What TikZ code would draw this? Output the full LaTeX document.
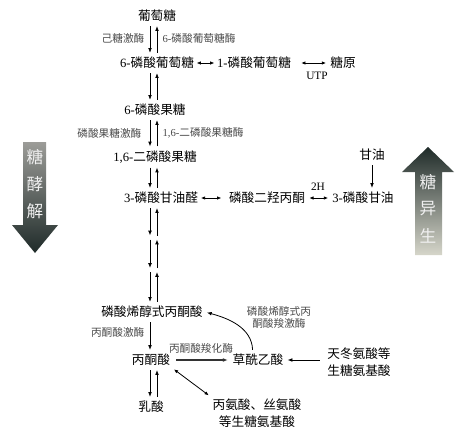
\documentclass[tikz,border=0pt]{standalone}
\usepackage{fontspec}
\setmainfont{Liberation Serif}
\newfontfamily\cjk{Noto Sans CJK SC}
\usetikzlibrary{arrows.meta,calc}
\definecolor{gldark}{HTML}{1F2B29}
\definecolor{glmid}{HTML}{3E4846}
\definecolor{gllight}{HTML}{9C9C98}
\definecolor{gnlight}{HTML}{D6D6CA}
\definecolor{enzgray}{HTML}{4A4A4A}
\tikzset{
  chem/.style={font=\cjk\fontsize{9.5}{12.5}\selectfont, inner sep=1.5pt, align=center},
  enz/.style={font=\cjk\fontsize{8}{9}\selectfont, text=enzgray, inner sep=1pt, align=center},
  latin/.style={font=\fontsize{8.5}{10}\selectfont, inner sep=1pt},
  bigtxt/.style={font=\cjk\fontsize{12.5}{14}\selectfont, text=white!94!black},
  arr/.style={-{Latex[length=3.6pt,width=2.8pt]}, line width=0.6pt, shorten <=1.5pt, shorten >=1.5pt},
  dbl/.style={{Latex[length=3.2pt,width=2.6pt]}-{Latex[length=3.2pt,width=2.6pt]}, line width=0.6pt, shorten <=1.5pt, shorten >=1.5pt},
}

\begin{document}
\begin{tikzpicture}[x=0.75pt, y=-0.75pt]
  \useasboundingbox (0,0) rectangle (469,439);

  % big arrows at the sides
  \shade[top color=gllight, middle color=glmid, bottom color=gldark]
    (23,142) -- (46,142) -- (46,225) -- (58,225) -- (35,253) -- (12,225) -- (23,225) -- cycle;
  \shade[top color=gldark, middle color=glmid!70!gnlight, bottom color=gnlight]
    (428,147) -- (454,172) -- (442,172) -- (442,255) -- (415,255) -- (415,172) -- (402,172) -- cycle;
  \node[bigtxt] (gly1) at (35,157) {糖};
  \node[bigtxt] (gly2) at (35,184) {酵};
  \node[bigtxt] (gly3) at (35,211) {解};
  \node[bigtxt] (gng1) at (428,182) {糖};
  \node[bigtxt] (gng2) at (428,209) {异};
  \node[bigtxt] (gng3) at (428,236) {生};

  % metabolites
  \node[chem] (glc)  at (157,16)  {葡萄糖};
  \node[chem] (g6p)  at (157,63)  {\textrm{6-}磷酸葡萄糖};
  \node[chem] (g1p)  at (254,63)  {\textrm{1-}磷酸葡萄糖};
  \node[chem] (glyg) at (343,63)  {糖原};
  \node[chem] (f6p)  at (155,110) {\textrm{6-}磷酸果糖};
  \node[chem] (fbp)  at (155,157) {\textrm{1,6-}二磷酸果糖};
  \node[chem] (gap)  at (161,198) {\textrm{3-}磷酸甘油醛};
  \node[chem] (dhap) at (267,198) {磷酸二羟丙酮};
  \node[chem] (g3p)  at (363,198) {\textrm{3-}磷酸甘油};
  \node[chem] (glyc) at (372,155) {甘油};
  \node[chem] (pep)  at (152,312) {磷酸烯醇式丙酮酸};
  \node[chem] (pyr)  at (151,360) {丙酮酸};
  \node[chem] (oaa)  at (258,360) {草酰乙酸};
  \node[chem] (asp)  at (359,362) {天冬氨酸等\\生糖氨基酸};
  \node[chem] (lac)  at (151,407) {乳酸};
  \node[chem] (ala)  at (257,413) {丙氨酸、丝氨酸\\等生糖氨基酸};

  % enzymes and cofactors
  \node[enz, anchor=east] (hk)     at (146,38)  {己糖激酶};
  \node[enz, anchor=west] (g6pase) at (161,38)  {\textrm{6-}磷酸葡萄糖酶};
  \node[enz, anchor=east] (pfk)    at (143,133) {磷酸果糖激酶};
  \node[enz, anchor=west] (fbpase) at (161,133) {\textrm{1,6-}二磷酸果糖酶};
  \node[enz, anchor=east] (pk)     at (146,332) {丙酮酸激酶};
  \node[enz] (pc)    at (201,348) {丙酮酸羧化酶};
  \node[enz] (pepck) at (279,317) {磷酸烯醇式丙\\酮酸羧激酶};
  \node[latin] (utp) at (317,76)  {UTP};
  \node[latin] (hh)  at (318,187) {2H};

  % main column
  \coordinate (cl) at (150,0);
  \coordinate (cr) at (157,0);
  \coordinate (k1) at (153,237.5);
  \coordinate (k2) at (153,270);
  \foreach \a/\b in {glc.south/g6p.north, g6p.south/f6p.north, f6p.south/fbp.north,
      fbp.south/gap.north, gap.south/k1, k1/k2, k2/pep.north, pyr.south/lac.north} {
    \draw[arr] (\a -| cl) -- (\b -| cl);
    \draw[arr] (\b -| cr) -- (\a -| cr);
  }
  \draw[arr] (pep.south -| cl) -- (pyr.north -| cl);

  % side reactions
  \draw[dbl, shorten <=0.3pt, shorten >=0.3pt] (g6p) -- (g1p);
  \draw[dbl, shorten <=6pt] (g1p) -- (glyg);
  \draw[dbl, shorten <=0.5pt, shorten >=4pt] (gap) -- (dhap);
  \draw[dbl] (dhap) -- (g3p);
  \draw[arr] (glyc) -- (glyc |- g3p.north);
  \draw[arr, line width=1.1pt, black!80, shorten <=3pt, shorten >=2pt] (pyr) -- (oaa);
  \draw[arr, shorten <=4pt] (asp.west |- oaa.center) -- (oaa.east);
  \draw[arr] ([xshift=-4pt]oaa.north) to[out=92, in=-15] (pep.east);
  \draw[dbl] (pyr.south east) -- (ala.north west);
\end{tikzpicture}
\end{document}
